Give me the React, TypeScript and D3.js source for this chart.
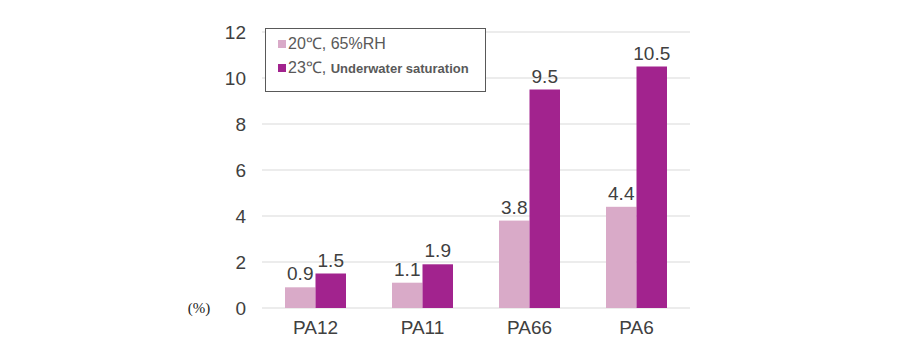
import React from "react";
import * as d3 from "d3";

const categories = ["PA12", "PA11", "PA66", "PA6"];
const seriesNames = ["20℃, 65%RH", "23℃, Underwater saturation"];
const humid = [0.9, 1.1, 3.8, 4.4];
const water = [1.5, 1.9, 9.5, 10.5];
const yTicks = [0, 2, 4, 6, 8, 10, 12];
const colors = ["#D9AAC8", "#A2238E"];

export default function App() {
  const W = 900, H = 360;
  const m = { left: 262, right: 210, top: 32, bottom: 52 };
  const x = d3.scaleBand<string>().domain(categories).range([m.left, W - m.right]).paddingInner(0.43).paddingOuter(0.215);
  const x1 = d3.scaleBand<number>().domain([0, 1]).range([0, x.bandwidth()]);
  const y = d3.scaleLinear().domain([0, 12]).range([H - m.bottom, m.top]);
  const series = [humid, water];
  const font = "'Liberation Sans', Arial, sans-serif";
  return (
    <svg width={W} height={H} style={{ position: "absolute", left: 0, top: 0, background: "#fff" }}>
      {yTicks.map((t) => (
        <g key={t}>
          <line x1={m.left} x2={W - m.right} y1={y(t)} y2={y(t)} stroke="#D9D9D9" strokeWidth={1} />
          <text x={246} y={y(t)} dy="0.36em" textAnchor="end" fontFamily={font} fontSize={19} fill="#404040">{t}</text>
        </g>
      ))}
      <text x={199} y={y(0)} dy="0.36em" textAnchor="middle" style={{ fontFamily: "'Liberation Serif', 'DejaVu Serif', serif" }} fontSize={15} fill="#222">(%)</text>
      {categories.map((c, i) => (
        <g key={c}>
          {series.map((s, j) => {
            const bx = (x(c) as number) + (x1(j) as number);
            return (
              <g key={j}>
                <rect x={bx} y={y(s[i])} width={x1.bandwidth()} height={y(0) - y(s[i])} fill={colors[j]} />
                <text x={bx + x1.bandwidth() / 2} y={y(s[i]) - 7} textAnchor="middle" fontFamily={font} fontSize={19} fill="#404040">{s[i]}</text>
              </g>
            );
          })}
          <text x={(x(c) as number) + x.bandwidth() / 2} y={334} textAnchor="middle" fontFamily={font} fontSize={19} fill="#404040">{c}</text>
        </g>
      ))}
      <rect x={265.5} y={28.5} width={220} height={63} fill="#fff" stroke="#595959" strokeWidth={1} />
      <rect x={278} y={40} width={8} height={8} fill={colors[0]} />
      <text x={288} y={49} fontFamily={font} fontSize={16} fill="#595959">{seriesNames[0]}</text>
      <rect x={278} y={64} width={8} height={8} fill={colors[1]} />
      <text x={288} y={73} fontFamily={font} fill="#595959">
        <tspan fontSize={16}>23℃, </tspan>
        <tspan fontSize={13} fontWeight="bold">Underwater saturation</tspan>
      </text>
    </svg>
  );
}
